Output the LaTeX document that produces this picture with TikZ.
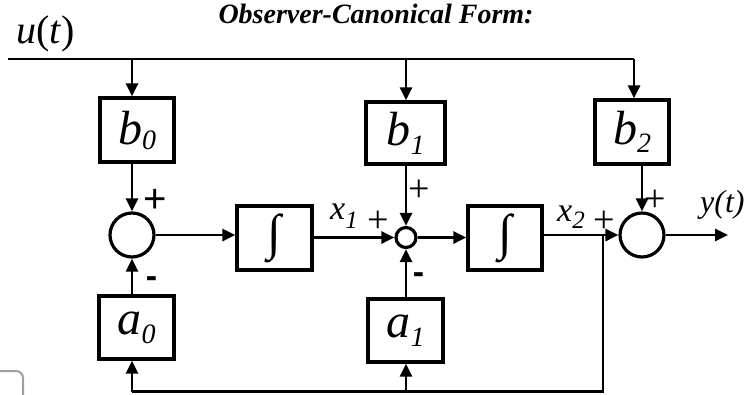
\documentclass[tikz,border=0pt]{standalone}
\usepackage{fontspec}
\setmainfont{Liberation Serif}
\newfontfamily\sansf{Liberation Sans}
\usetikzlibrary{arrows.meta}
\newcommand{\fs}[1]{\fontsize{#1}{#1}\selectfont}
\newcommand{\gain}[3]{\fs{48}\itshape #1\raisebox{#3}{\fs{28}#2}}
\begin{document}
\begin{tikzpicture}[x=1pt,y=-1pt,
  blk/.style={draw,line width=3.2pt,inner sep=0pt},
  sum/.style={draw,circle,line width=3.2pt,inner sep=0pt},
  sig/.style={line width=2.8pt},
  arr/.style={sig,-{Triangle[length=13pt,width=12pt]}},
  pmp/.style={inner sep=0pt,font=\sansf\fs{40}},
  pmm/.style={inner sep=0pt,font=\sansf\bfseries\fs{34}},
  pmt/.style={inner sep=0pt,font=\fs{38}},
  lbl/.style={inner sep=0pt,anchor=base west}]
\useasboundingbox (0,0) rectangle (747,394);
% title
\node[inner sep=0pt,anchor=base,font=\fs{28}\bfseries\itshape] (title) at (376,23) {Observer-Canonical Form:};
\node[lbl,font=\fs{40}] (ut) at (16,43) {\textit{u}(\textit{t})};
% blocks
\node[blk,minimum width=74pt,minimum height=64pt] (b0) at (137,130) {\gain{b}{0}{-5pt}};
\node[blk,minimum width=79pt,minimum height=62pt] (b1) at (405.5,133) {\gain{b}{1}{-9pt}};
\node[blk,minimum width=74pt,minimum height=64pt] (b2) at (632,132) {\gain{b}{2}{-8pt}};
\node[sum,minimum size=44pt] (s1) at (132,235) {};
\node[blk,minimum width=75pt,minimum height=64pt] (i1) at (274.5,238) {\fs{50}∫};
\node[sum,minimum size=20pt] (s2) at (406,237.5) {};
\node[blk,minimum width=74pt,minimum height=64pt] (i2) at (505,238) {\fs{50}∫};
\node[sum,minimum size=44pt] (s3) at (642,235) {};
\node[blk,minimum width=75pt,minimum height=63pt] (a0) at (136.5,327.5) {\gain{a}{0}{-9pt}};
\node[blk,minimum width=75pt,minimum height=63pt] (a1) at (405.5,330.5) {\gain{a}{1}{-9pt}};
% input bus
\coordinate (uin) at (8,59);
\coordinate (j0) at (132,59);
\coordinate (j1) at (406,59);
\coordinate (j2) at (634,59);
\draw[sig] (uin) -- (j2);
\draw[arr] (j0) -- (j0 |- b0.north);
\draw[arr] (j1) -- (j1 |- b1.north);
\draw[arr] (j2) -- (j2 |- b2.north);
% into summers
\draw[arr] (s1.north |- b0.south) -- (s1.north);
\draw[arr] (s1.south |- a0.north) -- (s1.south);
\draw[arr] (s2.north |- b1.south) -- (s2.north);
\draw[arr] (s2.south |- a1.north) -- (s2.south);
\draw[arr] (s3.north |- b2.south) -- (s3.north);
% forward path
\draw[arr] (s1.east) -- (s1.east -| i1.west);
\draw[arr] (s2.west -| i1.east) -- (s2.west);
\draw[arr] (s2.east) -- (s2.east -| i2.west);
\draw[arr] (s3.west -| i2.east) -- (s3.west);
\coordinate (yout) at (728,235);
\draw[arr] (s3.east) -- (yout);
% feedback
\coordinate (jx) at (603,235);
\coordinate (bot) at (603,391.5);
\draw[sig] (jx) -- (bot) -- (bot -| s1.south);
\draw[arr] (bot -| s1.south) -- (s1.south |- a0.south);
\draw[arr] (bot -| s2.south) -- (s2.south |- a1.south);
% signs and labels
\node[pmp] (p1) at (155,200.5) {+};
\node[pmm] (m1) at (151.5,282.5) {-};
\node[lbl,font=\fs{34}\itshape] (x1) at (330,219) {x\raisebox{-9pt}{\fs{25}1}};
\node[pmt] (p2) at (378,222) {+};
\node[pmt] (p3) at (419,191) {+};
\node[pmm] (m2) at (418.5,278.5) {-};
\node[lbl,font=\fs{34}\itshape] (x2) at (557,221) {x\raisebox{-7pt}{\fs{25}2}};
\node[pmt] (p4) at (604,221.5) {+};
\node[pmt] (p5) at (655,201) {+};
\node[lbl,font=\fs{32}\itshape] (yt) at (700,212) {y(t)};
% partial icon at lower left
\draw[gray!75,line width=2pt,rounded corners=7pt] (-20,371) -- (23,371) -- (23,400);
\end{tikzpicture}
\end{document}
